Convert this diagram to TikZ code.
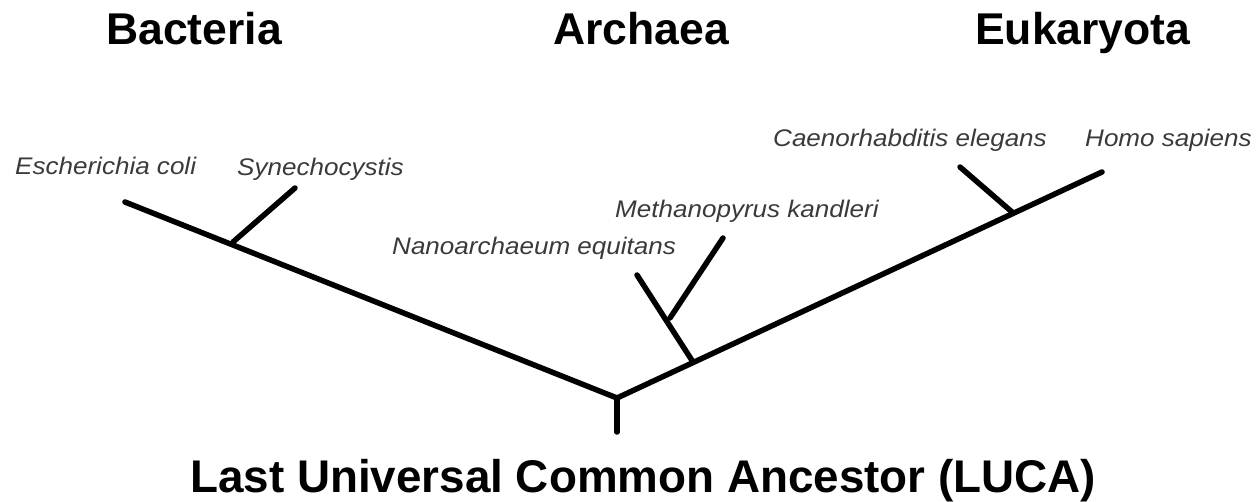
\documentclass[tikz,border=0pt]{standalone}
\usepackage{fontspec}
\setmainfont{Liberation Sans}
\newfontfamily\widesans[FakeStretch=1.085]{Liberation Sans}
\definecolor{labelgray}{HTML}{3A3A3A}
\begin{document}
\begin{tikzpicture}[x=1pt,y=-1pt, line join=round, line cap=round]
	\tikzset{branch/.style={line width=5.5pt, black},
		realm/.style={font=\fontsize{44.5}{50}\selectfont\bfseries, anchor=base west, inner sep=0pt},
		species/.style={font=\widesans\fontsize{24}{28}\selectfont\itshape, text=labelgray, anchor=base west, inner sep=0pt}}
	\useasboundingbox (0,0) rectangle (1260,502);
	% Domänen
	\node[realm] (bac) at (106,45) {Bacteria};
	\node[realm] (arc) at (553,45) {Archaea};
	\node[realm] (euk) at (975,45) {Eukaryota};
	\node[realm, font=\fontsize{45.8}{52}\selectfont\bfseries] (luca) at (190,492) {Last Universal Common Ancestor (LUCA)};
	% Arten
	\node[species] (ecoli) at (15,175) {Escherichia coli};
	\node[species] (syn) at (237,176) {Synechocystis};
	\node[species] (nano) at (392,255) {Nanoarchaeum equitans};
	\node[species] (meth) at (615,218) {Methanopyrus kandleri};
	\node[species] (cel) at (773,147) {Caenorhabditis elegans};
	\node[species] (homo) at (1085,147) {Homo sapiens};
	% Baum
	\coordinate (root) at (617,398);
	\coordinate (stem) at (617,432);
	\coordinate (tecoli) at (125,202);
	\coordinate (jbac) at (233,242);
	\coordinate (tsyn) at (295,188);
	\coordinate (thomo) at (1102,172);
	\coordinate (jeuk) at (1012,212);
	\coordinate (tcel) at (960,167);
	\coordinate (jarc) at (693,362);
	\coordinate (jmeth) at (670,318);
	\coordinate (tnano) at (637,275);
	\coordinate (tmeth) at (723,238);
	\draw[branch] (stem)--(root);
	\draw[branch] (tecoli)--(root)--(thomo);
	\draw[branch] (jbac)--(tsyn);
	\draw[branch] (jeuk)--(tcel);
	\draw[branch] (jarc)--(tnano);
	\draw[branch] (jmeth)--(tmeth);
\end{tikzpicture}
\end{document}
